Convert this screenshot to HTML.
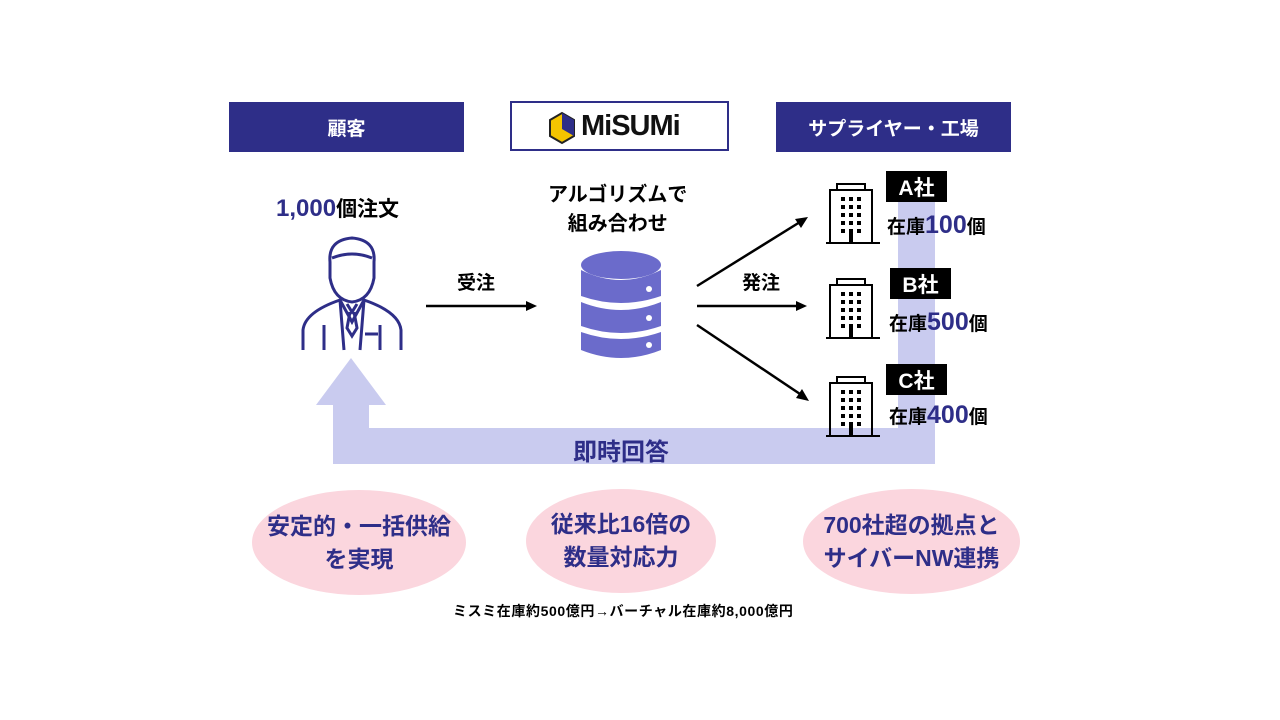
<!DOCTYPE html>
<html><head><meta charset="utf-8"><style>
body{margin:0;width:1280px;height:720px;background:#fff;position:relative;overflow:hidden;font-family:"Liberation Sans","Noto Sans CJK JP",sans-serif;font-weight:bold}
.a{position:absolute;white-space:nowrap}
.hdr{position:absolute;background:#2e2e88;color:#fff;font-size:19px;display:flex;align-items:center;justify-content:center}
.lbl{position:absolute;background:#000;color:#fff;font-size:21px;display:flex;align-items:center;justify-content:center}
.stk{font-size:19px;color:#000}
.stk span{color:#2e2e88;font-size:25px}
.el{position:absolute;border-radius:50%;background:#fbd6de;display:flex;align-items:center;justify-content:center;text-align:center;color:#2e2e88;font-size:23px;line-height:33px}
</style></head><body>
<svg width="1280" height="720" style="position:absolute;left:0;top:0">
 <rect x="898" y="200" width="37" height="264" fill="#c9cbef"/>
 <rect x="333" y="428" width="602" height="36" fill="#c9cbef"/>
 <rect x="333" y="400" width="36" height="64" fill="#c9cbef"/>
 <polygon points="316,405 351,358 386,405" fill="#c9cbef"/>
 <g fill="none" stroke="#2e2e88" stroke-width="3">
  <path d="M330,262 Q328,240 352,238 Q376,240 374,262 L374,278 Q370,300 352,302 Q334,300 330,278 Z"/>
  <path d="M332,258 Q352,250 372,258"/>
  <path d="M303,350 L303,330 Q305,312 340,300 L352,322 L364,300 Q399,312 401,330 L401,350"/>
  <path d="M347,304 L352,312 L357,304 M350,312 L347,328 L352,336 L357,328 L354,312"/>
  <path d="M324,325 L324,350 M380,325 L380,350 M365,334 L378,334"/>
  <path d="M340,300 L344,350 M364,300 L360,350"/>
 </g>
 <g fill="#6b6bcb">
  <ellipse cx="621" cy="265" rx="40" ry="14"/>
  <path d="M581,270 Q621,290 661,270 L661,296 Q621,310 581,296 Z"/>
  <path d="M581,302 Q621,318 661,302 L661,326 Q621,340 581,326 Z"/>
  <path d="M581,332 Q621,346 661,332 L661,350 Q621,366 581,350 Z"/>
 </g>
 <g fill="#fff"><circle cx="649" cy="289" r="3"/><circle cx="649" cy="318" r="3"/><circle cx="649" cy="345" r="3"/></g>
 <g stroke="#000" stroke-width="2.5">
  <line x1="426" y1="306" x2="528" y2="306"/>
  <line x1="697" y1="306" x2="798" y2="306"/>
  <line x1="697" y1="286" x2="800" y2="222"/>
  <line x1="697" y1="325" x2="800" y2="394"/>
 </g>
 <g fill="#000">
  <polygon points="537,306 526,301 526,311"/>
  <polygon points="807,306 796,301 796,311"/>
  <polygon points="808,217 795,219 801,228"/>
  <polygon points="809,401 796,398 802,389"/>
 </g>
 <g id="b">
  <g fill="none" stroke="#000" stroke-width="2">
   <rect x="837" y="184" width="28" height="6"/>
   <rect x="830" y="190" width="42" height="53"/>
  </g>
  <line x1="826" y1="243" x2="880" y2="243" stroke="#000" stroke-width="2"/>
 </g>
 <use href="#b" y="95"/><use href="#b" y="193"/>
 <g id="w" fill="#000">
  <rect x="841" y="197" width="4" height="4"/><rect x="849" y="197" width="4" height="4"/><rect x="857" y="197" width="4" height="4"/>
  <rect x="841" y="205" width="4" height="4"/><rect x="849" y="205" width="4" height="4"/><rect x="857" y="205" width="4" height="4"/>
  <rect x="841" y="213" width="4" height="4"/><rect x="849" y="213" width="4" height="4"/><rect x="857" y="213" width="4" height="4"/>
  <rect x="841" y="221" width="4" height="4"/><rect x="849" y="221" width="4" height="4"/><rect x="857" y="221" width="4" height="4"/>
  <rect x="841" y="229" width="4" height="4"/><rect x="857" y="229" width="4" height="4"/><rect x="849" y="229" width="4" height="14"/>
 </g>
 <use href="#w" y="95"/><use href="#w" y="193"/>
 <polygon points="550,120 562,113 574,120 574,136 562,143 550,136" fill="#f4c400" stroke="#222" stroke-width="2"/>
 <polygon points="562,113 574,120 574,136 562,129" fill="#2e2e88"/>
</svg>
<div class="hdr" style="left:229px;top:102px;width:235px;height:50px">顧客</div>
<div style="position:absolute;left:510px;top:101px;width:219px;height:50px;border:2px solid #2e2e88;box-sizing:border-box"></div>
<div class="a" style="left:581px;top:110px;font-size:29px;color:#111;letter-spacing:-1px">MiSUMi</div>
<div class="hdr" style="left:776px;top:102px;width:235px;height:50px">サプライヤー・工場</div>
<div class="a" style="left:276px;top:193px;font-size:21px;color:#000"><span style="color:#2e2e88;font-size:24px">1,000</span>個注文</div>
<div class="a" style="left:548px;top:181px;font-size:20px;line-height:29px;text-align:center;color:#000">アルゴリズムで<br>組み合わせ</div>
<div class="a" style="left:457px;top:268px;font-size:19px;color:#000">受注</div>
<div class="a" style="left:742px;top:268px;font-size:19px;color:#000">発注</div>
<div class="lbl" style="left:886px;top:171px;width:61px;height:31px">A社</div>
<div class="lbl" style="left:890px;top:268px;width:61px;height:31px">B社</div>
<div class="lbl" style="left:886px;top:364px;width:61px;height:31px">C社</div>
<div class="a stk" style="left:887px;top:211px">在庫<span>100</span>個</div>
<div class="a stk" style="left:889px;top:308px">在庫<span>500</span>個</div>
<div class="a stk" style="left:889px;top:401px">在庫<span>400</span>個</div>
<div class="a" style="left:573px;top:432px;font-size:24px;color:#2e2e88">即時回答</div>
<div class="el" style="left:252px;top:490px;width:214px;height:105px">安定的・一括供給<br>を実現</div>
<div class="el" style="left:526px;top:489px;width:190px;height:104px">従来比16倍の<br>数量対応力</div>
<div class="el" style="left:803px;top:489px;width:217px;height:105px">700社超の拠点と<br>サイバーNW連携</div>
<div class="a" style="left:453px;top:601px;font-size:14px;color:#000;letter-spacing:0.6px">ミスミ在庫約500億円→バーチャル在庫約8,000億円</div>
</body></html>
